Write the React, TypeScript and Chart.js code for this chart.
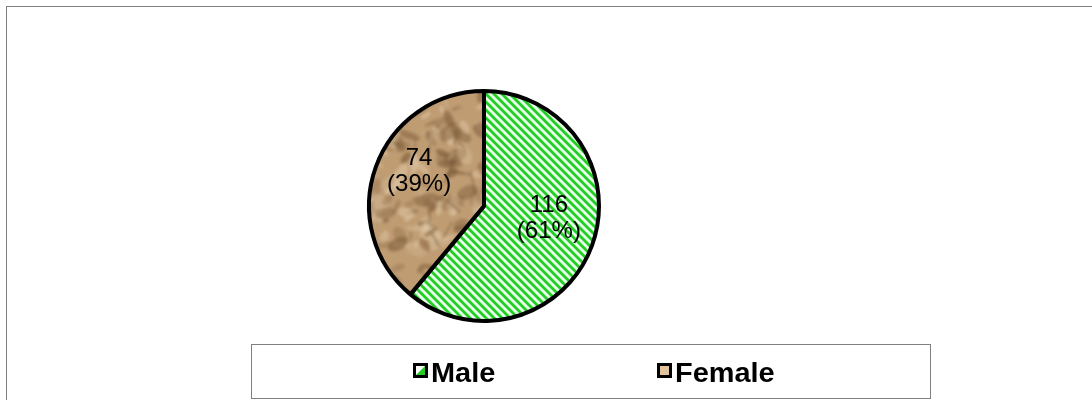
import { useEffect, useRef } from "react";
import { Chart, registerables } from "chart.js";

Chart.register(...registerables);

const categories = ["Male", "Female"];
const counts = [116, 74];
const percentLabels = ["(61%)", "(39%)"];

function makeStripePattern(ctx: CanvasRenderingContext2D): CanvasPattern | string {
  const P = 8;
  const c = document.createElement("canvas");
  c.width = P;
  c.height = P;
  const g = c.getContext("2d");
  if (!g) return "#33cc33";
  const img = g.createImageData(P, P);
  const green = [34, 206, 34];
  const light = [232, 255, 236];
  for (let y = 0; y < P; y++) {
    for (let x = 0; x < P; x++) {
      const t = ((((x - y) % P) + P) % P) / P;
      let w = 0.5 + 0.5 * Math.cos(2 * Math.PI * t);
      w = Math.min(1, Math.max(0, (w - 0.5) * 1.8 + 0.5));
      const i = (y * P + x) * 4;
      for (let k = 0; k < 3; k++) img.data[i + k] = Math.round(light[k] + (green[k] - light[k]) * w);
      img.data[i + 3] = 255;
    }
  }
  g.putImageData(img, 0, 0);
  return ctx.createPattern(c, "repeat") || "#33cc33";
}

function makePaperPattern(ctx: CanvasRenderingContext2D): CanvasPattern | string {
  const S = 200;
  const c = document.createElement("canvas");
  c.width = S;
  c.height = S;
  const g = c.getContext("2d");
  if (!g) return "#c4a27a";
  g.fillStyle = "#bf9c72";
  g.fillRect(0, 0, S, S);
  let seed = 98765;
  const rnd = () => {
    seed = (seed * 1103515245 + 12345) & 0x7fffffff;
    return seed / 0x7fffffff;
  };
  const offsets = [-S, 0, S];
  for (let n = 0; n < 260; n++) {
    const x = rnd() * S;
    const y = rnd() * S;
    const r = 3 + rnd() * 10;
    const v = rnd();
    const a = 0.25 + rnd() * 0.4;
    const ry = r * (0.25 + rnd() * 0.4);
    const rot = rnd() * Math.PI;
    g.fillStyle = v < 0.55 ? `rgba(125,92,58,${a})` : `rgba(222,198,165,${a})`;
    for (const ox of offsets) {
      for (const oy of offsets) {
        g.beginPath();
        g.ellipse(x + ox, y + oy, r, ry, rot, 0, Math.PI * 2);
        g.fill();
      }
    }
  }
  g.lineWidth = 1.5;
  for (let n = 0; n < 40; n++) {
    const x = rnd() * S;
    const y = rnd() * S;
    const ang = rnd() * Math.PI;
    const len = 8 + rnd() * 22;
    g.strokeStyle = `rgba(105,75,45,${0.35 + rnd() * 0.3})`;
    for (const ox of offsets) {
      for (const oy of offsets) {
        g.beginPath();
        g.moveTo(x + ox, y + oy);
        g.lineTo(x + ox + Math.cos(ang) * len, y + oy + Math.sin(ang) * len);
        g.stroke();
      }
    }
  }
  // tile 3x3 into a big canvas, blur once, crop the centre tile
  const big = document.createElement("canvas");
  big.width = S * 3;
  big.height = S * 3;
  const gb = big.getContext("2d");
  const c2 = document.createElement("canvas");
  c2.width = S;
  c2.height = S;
  const g2 = c2.getContext("2d");
  if (gb && g2) {
    for (let i = 0; i < 3; i++) for (let j = 0; j < 3; j++) gb.drawImage(c, i * S, j * S);
    g2.filter = "blur(1.5px)";
    g2.drawImage(big, -S, -S);
    g2.filter = "none";
    return ctx.createPattern(c2, "repeat") || "#c4a27a";
  }
  return ctx.createPattern(c, "repeat") || "#c4a27a";
}

const framePlugin = {
  id: "frameAndLegend",
  beforeDraw(chart: any) {
    const ctx = chart.ctx as CanvasRenderingContext2D;
    ctx.save();
    ctx.fillStyle = "#ffffff";
    ctx.fillRect(0, 0, chart.width, chart.height);
    ctx.strokeStyle = "#808080";
    ctx.lineWidth = 1;
    ctx.strokeRect(6.5, 6.5, chart.width + 20, chart.height + 20);
    ctx.restore();
  },
  afterDraw(chart: any) {
    const ctx = chart.ctx as CanvasRenderingContext2D;
    const meta = chart.getDatasetMeta(0);
    const total = counts.reduce((a, b) => a + b, 0);
    ctx.save();
    ctx.fillStyle = "#000000";
    ctx.font = "24px 'Liberation Sans', Arial, sans-serif";
    ctx.textAlign = "center";
    ctx.textBaseline = "alphabetic";
    meta.data.forEach((arc: any, i: number) => {
      const p = arc.getProps(["x", "y", "startAngle", "endAngle", "outerRadius"], true);
      const mid = (p.startAngle + p.endAngle) / 2;
      const cx = p.x + Math.cos(mid) * p.outerRadius * 0.6;
      const cy = p.y + Math.sin(mid) * p.outerRadius * 0.6 - 13;
      ctx.fillText(String(counts[i]), cx, cy - 12.75 + 8.5);
      ctx.fillText(percentLabels[i] || `(${Math.round((counts[i] / total) * 100)}%)`, cx, cy + 12.75 + 8.5);
    });
    ctx.restore();

    ctx.save();
    ctx.strokeStyle = "#808080";
    ctx.lineWidth = 1;
    ctx.strokeRect(251.5, 344.5, 679, 54);
    const markerX = [413, 657];
    const textX = [431, 675];
    const baseY = 382;
    categories.forEach((name, i) => {
      const mx = markerX[i];
      const my = 363;
      ctx.fillStyle = "#000000";
      ctx.fillRect(mx, my, 15, 15);
      if (i === 0) {
        ctx.fillStyle = "#ffffff";
        ctx.fillRect(mx + 3, my + 3, 9, 9);
        ctx.fillStyle = "#22cc22";
        ctx.beginPath();
        ctx.moveTo(mx + 3, my + 12);
        ctx.lineTo(mx + 12, my + 12);
        ctx.lineTo(mx + 12, my + 3);
        ctx.closePath();
        ctx.fill();
      } else {
        ctx.fillStyle = "#e4c49c";
        ctx.fillRect(mx + 3, my + 3, 9, 9);
      }
      ctx.save();
      ctx.translate(textX[i], baseY);
      ctx.scale(1.07, 1);
      ctx.fillStyle = "#000000";
      ctx.font = "bold 27px 'Liberation Sans', Arial, sans-serif";
      ctx.textAlign = "left";
      ctx.textBaseline = "alphabetic";
      ctx.fillText(name, 0, 0);
      ctx.restore();
    });
    ctx.restore();
  },
};

export default function App() {
  const ref = useRef<HTMLCanvasElement | null>(null);
  useEffect(() => {
    const canvas = ref.current;
    if (!canvas) return;
    const ctx = canvas.getContext("2d");
    if (!ctx) return;
    const stripes = makeStripePattern(ctx);
    const paper = makePaperPattern(ctx);
    const chart = new Chart(canvas, {
      type: "pie",
      data: {
        labels: categories,
        datasets: [
          {
            data: counts,
            backgroundColor: [stripes, paper] as any,
            borderColor: "#000000",
            borderWidth: 4,
            hoverOffset: 0,
          },
        ],
      },
      options: {
        responsive: false,
        animation: false,
        devicePixelRatio: 1,
        layout: { padding: { left: 367, right: 491, top: 89, bottom: 77 } },
        plugins: {
          legend: { display: false },
          tooltip: { enabled: false },
          title: { display: false },
        },
      },
      plugins: [framePlugin],
    });
    return () => chart.destroy();
  }, []);
  return (
    <div style={{ position: "absolute", left: 0, top: 0, width: 1092, height: 400, overflow: "hidden" }}>
      <canvas ref={ref} width={1092} height={400} style={{ display: "block", width: 1092, height: 400 }} />
    </div>
  );
}
